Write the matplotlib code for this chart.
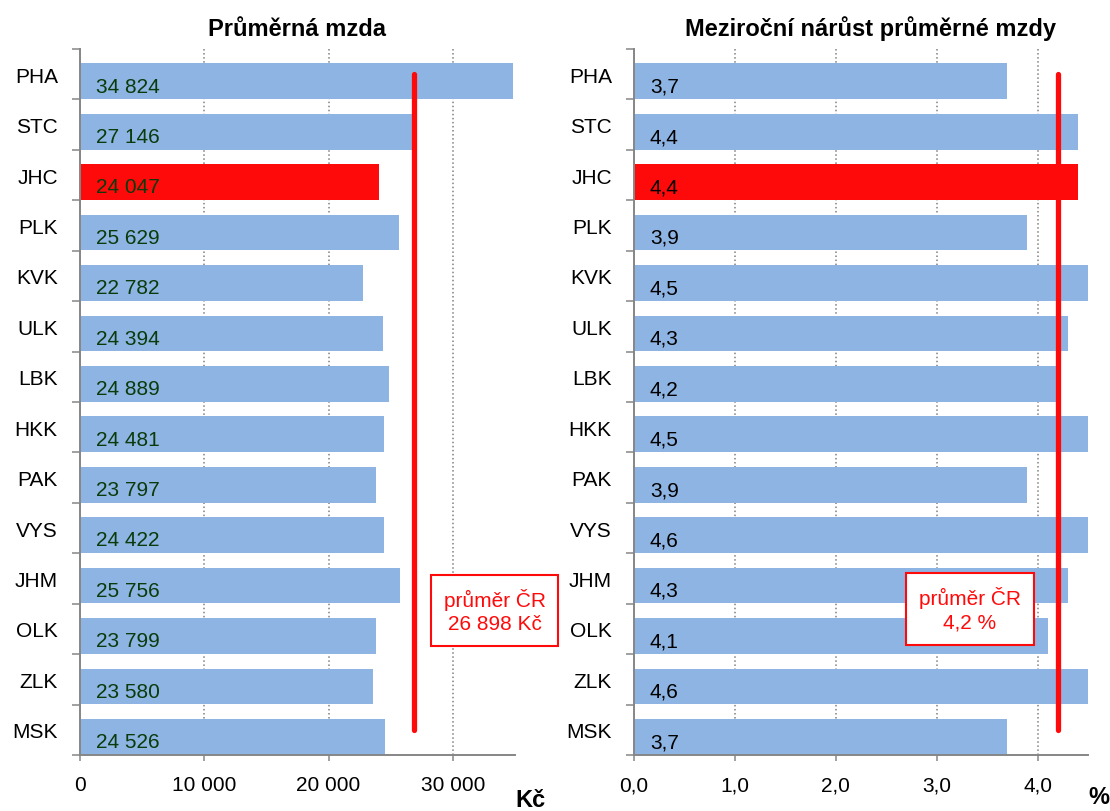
import numpy as np
import matplotlib
matplotlib.use("Agg")
import matplotlib.pyplot as plt

plt.rcParams['font.family'] = ['Liberation Sans', 'DejaVu Sans']

regions = ['PHA', 'STC', 'JHC', 'PLK', 'KVK', 'ULK', 'LBK', 'HKK',
           'PAK', 'VYS', 'JHM', 'OLK', 'ZLK', 'MSK']
wage = [34824, 27146, 24047, 25629, 22782, 24394, 24889, 24481,
        23797, 24422, 25756, 23799, 23580, 24526]
growth = [3.7, 4.4, 4.4, 3.9, 4.5, 4.3, 4.2, 4.5, 3.9, 4.6, 4.3, 4.1, 4.6, 3.7]
wage_avg = 26898
growth_avg = 4.2
highlight = 'JHC'

wage_ticks = [0, 10000, 20000, 30000]
growth_ticks = [0.0, 1.0, 2.0, 3.0, 4.0]

BLUE = '#8db4e2'
RED = '#ff0a0a'
AXIS_GRAY = '#868686'


def fmt_thousands(v):
    return f"{int(v):,}".replace(',', ' ')


def fmt_decimal(v):
    return f"{v:.1f}".replace('.', ',')


def draw_panel(ax, values, avg, xmax, xticks, tick_fmt, label_fmt,
               label_color, title, title_x, box_text, box_xy):
    n = len(regions)
    y = np.arange(n)
    colors = [RED if r == highlight else BLUE for r in regions]
    ax.barh(y + 0.14, values, height=0.71, color=colors, zorder=2)
    ax.set_ylim(n - 0.5, -0.5)
    ax.set_xlim(0, xmax)

    # average line
    ax.plot([avg, avg], [0, n - 1], color=RED, lw=3.8,
            solid_capstyle='round', zorder=4)

    for yi, v in zip(y, values):
        ax.annotate(label_fmt(v), xy=(0, yi + 0.14), xytext=(11.5, -3.5),
                    textcoords='offset points', ha='left', va='center',
                    color=label_color, fontsize=15, zorder=5)

    ax.text(box_xy[0], box_xy[1], box_text, transform=ax.transAxes,
            ha='center', va='center', color=RED, fontsize=15,
            linespacing=1.3, zorder=6, clip_on=False,
            bbox=dict(boxstyle='square,pad=0.62', fc='white', ec=RED, lw=1.5))

    # y axis: ticks on category boundaries, labels in between
    ax.set_yticks(np.arange(-0.5, n, 1))
    ax.set_yticklabels([])
    ax.set_yticks(y, minor=True)
    ax.set_yticklabels(regions, minor=True, fontsize=15)
    ax.tick_params(axis='y', which='major', length=6, width=1.1,
                   color=AXIS_GRAY, direction='out')
    ax.tick_params(axis='y', which='minor', length=0, pad=16)

    ax.set_xticks(xticks)
    ax.set_xticklabels([tick_fmt(t) for t in xticks], fontsize=15)
    ax.tick_params(axis='x', length=4.5, width=1.1, color=AXIS_GRAY,
                   direction='out', pad=10)

    ax.xaxis.grid(True, linestyle=':', color='#808080', lw=1.1, zorder=1)
    ax.set_axisbelow(True)
    for side in ['top', 'right']:
        ax.spines[side].set_visible(False)
    for side in ['left', 'bottom']:
        ax.spines[side].set_color(AXIS_GRAY)
        ax.spines[side].set_linewidth(1.4)

    ax.set_title(title, fontsize=17, fontweight='bold', pad=10, x=title_x)


fig = plt.figure(figsize=(11.1, 8.12), dpi=100)
ax1 = fig.add_axes([80 / 1110, 1 - 756 / 812, 435 / 1110, 706 / 812])
ax2 = fig.add_axes([634 / 1110, 1 - 756 / 812, 454 / 1110, 706 / 812])

draw_panel(ax1, wage, wage_avg, 35000, wage_ticks, fmt_thousands,
           fmt_thousands, '#0b3a0b', 'Průměrná mzda', 0.5,
           'průměr ČR\n' + fmt_thousands(wage_avg) + ' Kč', (0.953, 0.205))
draw_panel(ax2, growth, growth_avg, 4.5, growth_ticks, fmt_decimal,
           fmt_decimal, 'black', 'Meziroční nárůst průměrné mzdy', 0.52,
           'průměr ČR\n' + fmt_decimal(growth_avg) + ' %', (0.74, 0.207))

fig.text(530 / 1110, 1 - 801 / 812, 'Kč', ha='center', va='center',
         fontsize=17, fontweight='bold')
fig.text(1099 / 1110, 1 - 798 / 812, '%', ha='center', va='center',
         fontsize=17, fontweight='bold')

fig.savefig('out.png', dpi=100)
plt.close(fig)
